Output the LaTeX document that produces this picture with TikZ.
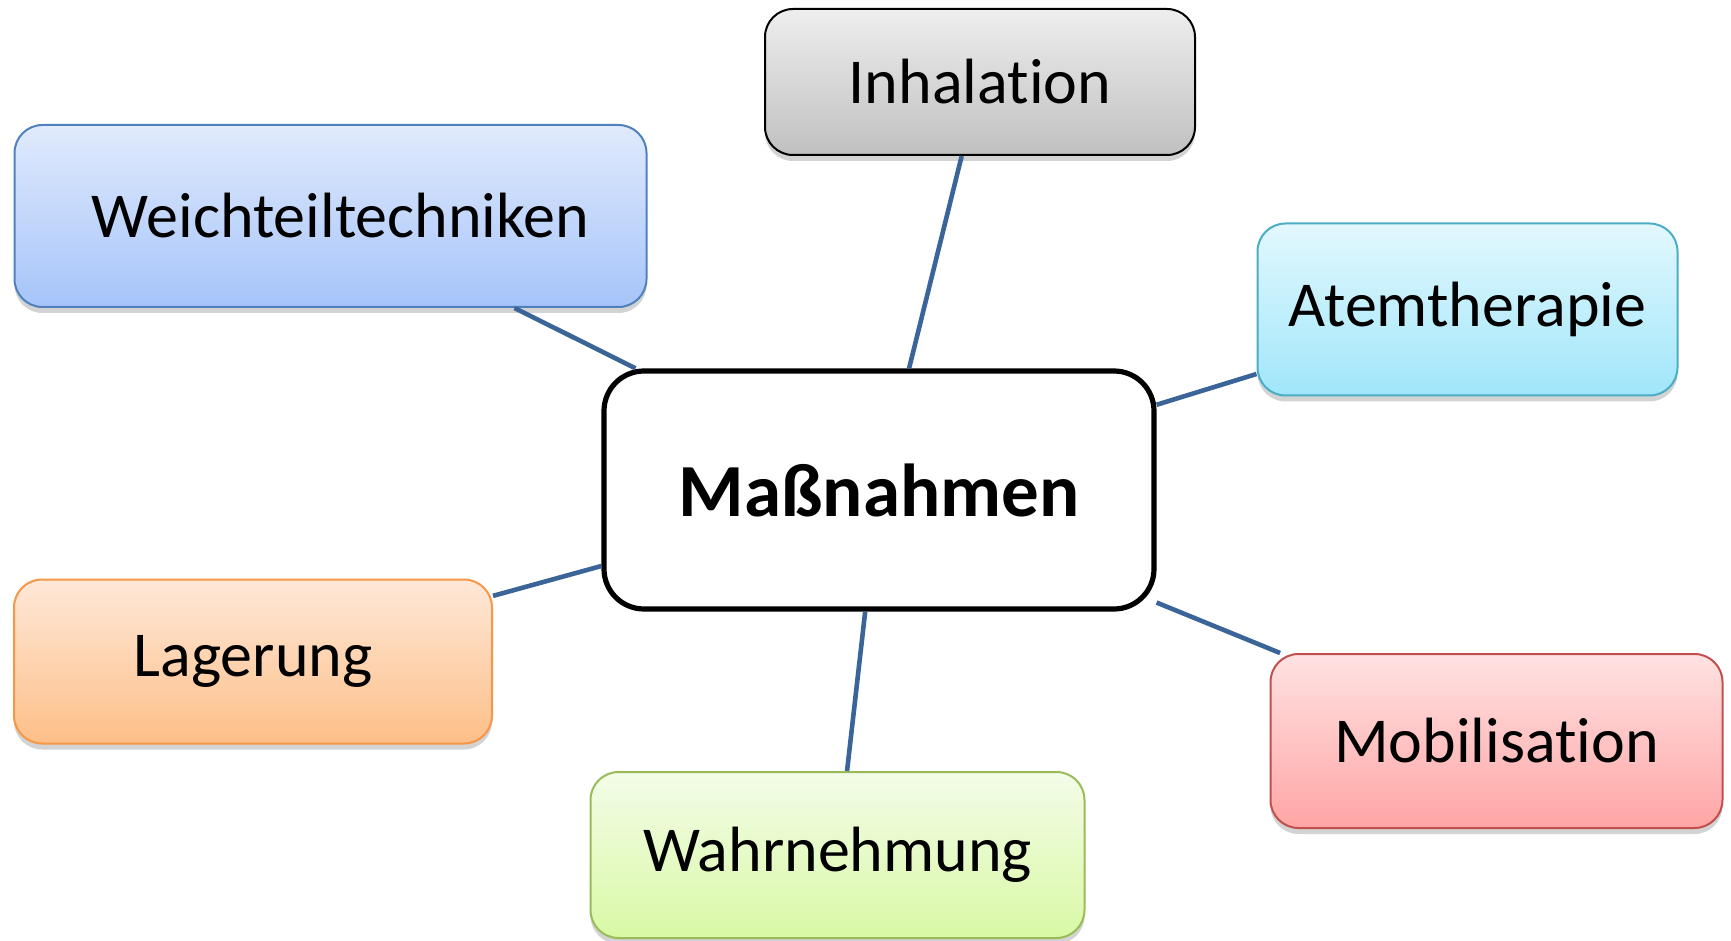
\documentclass[tikz,border=0pt]{standalone}
\usepackage{fontspec}
\setmainfont{Carlito}[Ligatures=NoCommon]
\usetikzlibrary{shadows}

\definecolor{linkblue}{HTML}{3B6598}
\definecolor{blueline}{HTML}{4F81BD}
\definecolor{cyanline}{HTML}{4BACC6}
\definecolor{orangeline}{HTML}{F79646}
\definecolor{redline}{HTML}{C0504D}
\definecolor{greenline}{HTML}{9BBB59}

\tikzset{
  box/.style={rectangle, rounded corners=14pt, line width=1pt, inner sep=0pt,
    font=\fontsize{32}{38}\selectfont,
    drop shadow={opacity=0.35, shadow xshift=0pt, shadow yshift=-3pt}},
  link/.style={draw=linkblue, line width=2.3pt}
}

\begin{document}
\begin{tikzpicture}[x=0.5pt, y=-0.5pt]
            \useasboundingbox (0,0) rectangle (1731,941);

            \node (mass) at (879,490) [rectangle, rounded corners=20pt, draw, line width=2.6pt,
                fill=white, minimum width=275pt, minimum height=119pt,
                font=\fontsize{37.5}{44}\selectfont\bfseries] {Maßnahmen};

            \node (weich) at (330.5,216) [box, draw=blueline, top color={rgb,255:red,224;green,234;blue,252},
                bottom color={rgb,255:red,166;green,196;blue,250},
                minimum width=316pt, minimum height=91pt] {\hspace{10pt}Weichteiltechniken};
            \node (inhal) at (980,82) [box, draw=black, top color={rgb,255:red,238;green,238;blue,238},
                bottom color={rgb,255:red,192;green,192;blue,192},
                minimum width=215pt, minimum height=73pt] {Inhalation};
            \node (atem) at (1467.5,309.5) [box, draw=cyanline, top color={rgb,255:red,227;green,248;blue,254},
                bottom color={rgb,255:red,160;green,230;blue,250},
                minimum width=210pt, minimum height=86pt] {Atemtherapie};
            \node (lager) at (253,661.5) [box, draw=orangeline, top color={rgb,255:red,254;green,232;blue,216},
                bottom color={rgb,255:red,253;green,191;blue,136},
                minimum width=239pt, minimum height=82pt] {Lagerung};
            \node (mobil) at (1496.5,741) [box, draw=redline, top color={rgb,255:red,255;green,226;blue,226},
                bottom color={rgb,255:red,255;green,165;blue,165},
                minimum width=226pt, minimum height=87pt] {Mobilisation};
            \node (wahr) at (837.5,855) [box, draw=greenline, top color={rgb,255:red,243;green,252;blue,232},
                bottom color={rgb,255:red,217;green,249;blue,165},
                minimum width=247pt, minimum height=83pt] {Wahrnehmung};

            \draw[link] (mass) -- (weich);
            \draw[link] (mass) -- (inhal);
            \draw[link] (mass) -- (atem);
            \draw[link] (mass) -- (lager);
            \draw[link] (mass) -- (mobil);
            \draw[link] (mass) -- (wahr);

            \end{tikzpicture}
\end{document}
